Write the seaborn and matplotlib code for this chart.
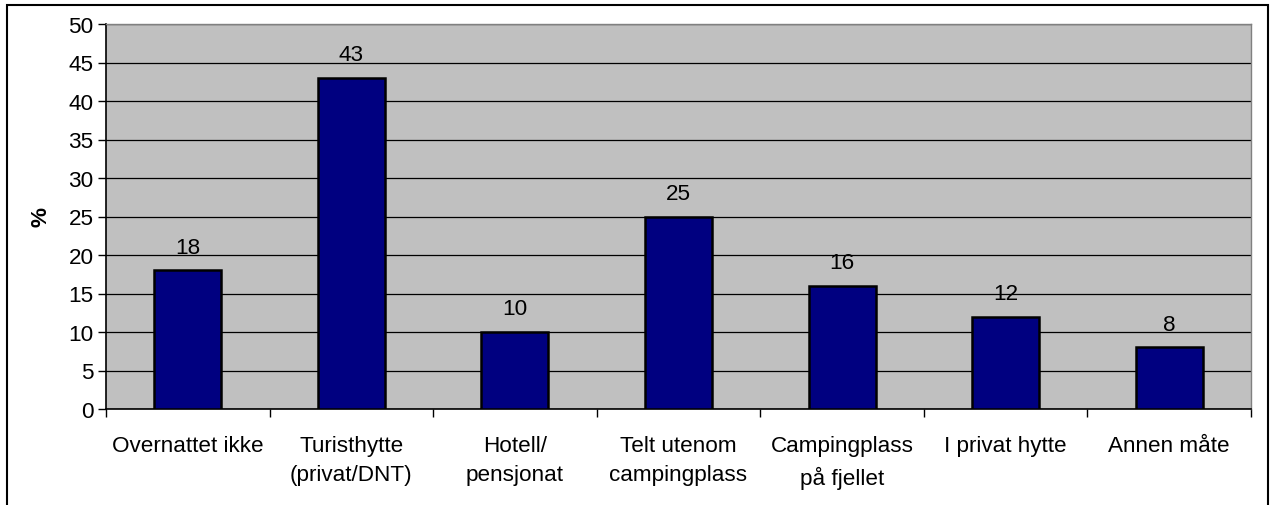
import matplotlib
matplotlib.use("Agg")
import matplotlib.pyplot as plt
import seaborn as sns
import pandas as pd
from matplotlib.patches import Rectangle

categories = ["Overnattet ikke", "Turisthytte\n(privat/DNT)", "Hotell/\npensjonat",
              "Telt utenom\ncampingplass", "Campingplass\npå fjellet", "I privat hytte", "Annen måte"]
values = [18, 43, 10, 25, 16, 12, 8]
yticks = [0, 5, 10, 15, 20, 25, 30, 35, 40, 45, 50]

sns.set_theme(style="white")
plt.rcParams['font.family'] = ['Liberation Sans', 'DejaVu Sans']
plt.rcParams['text.color'] = 'black'
plt.rcParams['xtick.color'] = 'black'
plt.rcParams['ytick.color'] = 'black'
plt.rcParams['axes.labelcolor'] = 'black'

FS = 16.2

df = pd.DataFrame({"cat": categories, "val": values})

fig = plt.figure(figsize=(12.71, 5.06), dpi=100)
ax = fig.add_axes([106/1271, 1-410/506, (1251-106)/1271, (410-25)/506])
ax.set_facecolor("#C0C0C0")

sns.barplot(data=df, x="cat", y="val", color="#000080", width=0.41,
            edgecolor="black", linewidth=1.8, saturation=1, ax=ax, zorder=3)

ax.set_ylim(0, 50)
ax.set_xlim(-0.5, len(categories) - 0.5)
ax.set_yticks(yticks)
ax.set_yticklabels([str(t) for t in yticks], fontsize=FS)
ax.yaxis.grid(True, color="black", linewidth=0.9, zorder=1)
ax.set_axisbelow(True)

ax.set_xticks(range(len(categories)))
ax.set_xticklabels(categories, fontsize=FS, linespacing=1.5)
ax.tick_params(axis="x", length=0, pad=19)
ax.tick_params(axis="y", length=6, width=1, direction="out", pad=3, left=True)
ax.set_xticks([i + 0.5 for i in range(-1, len(categories))], minor=True)
ax.tick_params(axis="x", which="minor", length=6, width=1, direction="out", bottom=True)

ax.set_xlabel("")
ax.set_ylabel("%", fontsize=FS, fontweight="bold", labelpad=12)

for s in ["left", "bottom"]:
    ax.spines[s].set_color("black")
    ax.spines[s].set_linewidth(1.2)
for s in ["top", "right"]:
    ax.spines[s].set_color("#808080")
    ax.spines[s].set_linewidth(1.0)

for i, v in enumerate(values):
    ax.annotate(str(v), (i, v), xytext=(0, 9), textcoords="offset points",
                ha="center", va="bottom", fontsize=FS)

frame = Rectangle((7/1271, -0.01), (1268-7)/1271, 1 - 6/506 + 0.01, transform=fig.transFigure,
                  fill=False, edgecolor="black", linewidth=1.5, clip_on=False)
fig.patches.append(frame)

fig.savefig("out.png", dpi=100)
